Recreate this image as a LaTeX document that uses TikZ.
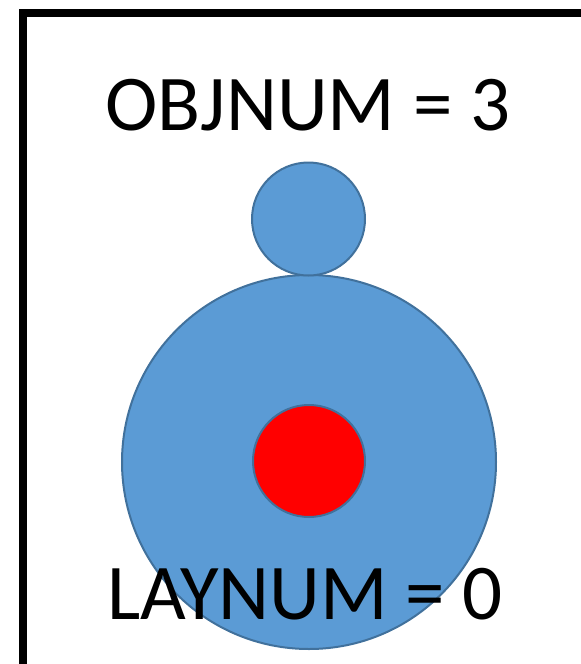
\documentclass[tikz,border=0pt]{standalone}
\usepackage{fontspec}
\setmainfont{Carlito}
\usetikzlibrary{positioning}
\definecolor{DiscBlue}{HTML}{5B9BD5}
\definecolor{DiscEdge}{HTML}{41719C}
\definecolor{CoreRed}{HTML}{FF0000}

\begin{document}
\begin{tikzpicture}[x=1pt, y=-1pt,
  disc/.style={circle, draw=DiscEdge, line width=2pt, fill=DiscBlue,
               inner sep=0pt},
  label/.style={font=\fontsize{79}{82}\selectfont, inner sep=0pt}
]
\useasboundingbox (0,0) rectangle (581,664);
\clip (0,0) rectangle (581,664);
\draw[line width=8pt] (23,700) |- (620,13);
\node[disc, minimum size=374pt] (body) at (309,462) {};
\node[disc, minimum size=113pt] (head) at (308.5,219) {};
\node[circle, draw=DiscEdge, line width=2pt, fill=CoreRed,
      minimum size=112pt, inner sep=0pt] (core) at (309,461) {};
\node[label, anchor=base] (objnum) at (308,130) {OBJNUM = 3};
\node[label, anchor=base] (laynum) at (305,619) {LAYNUM = 0};
\end{tikzpicture}
\end{document}
